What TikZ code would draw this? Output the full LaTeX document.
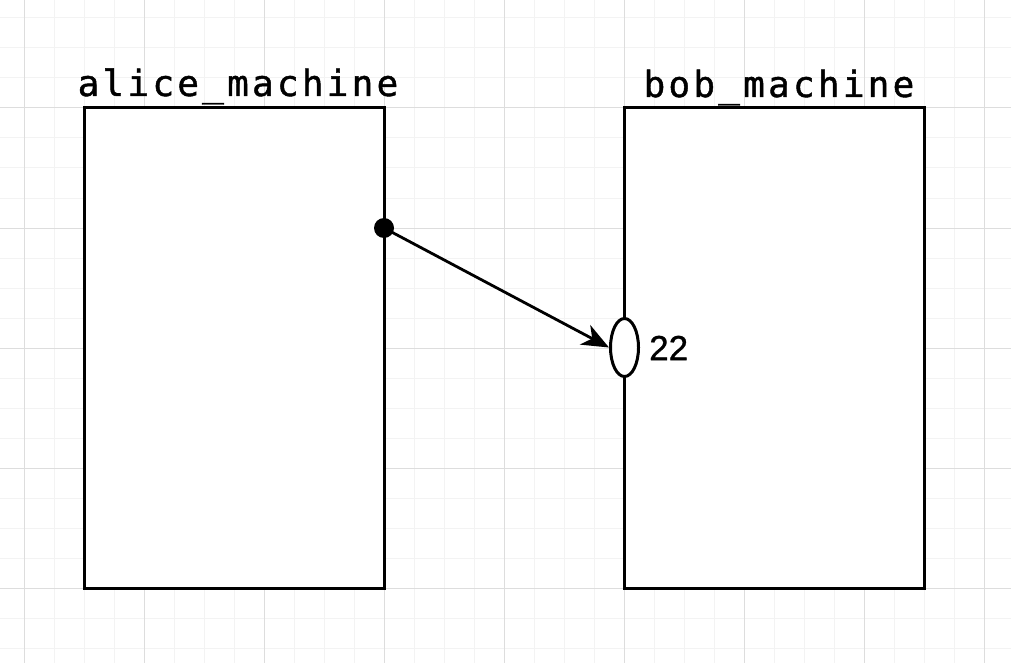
\documentclass[tikz,border=0pt]{standalone}
\usepackage{fontspec}
\usetikzlibrary{arrows.meta,shapes.geometric}
\newfontfamily\titlefont[LetterSpace=9,FakeBold=1.2]{DejaVu Sans Mono}
\newfontfamily\labelfont[FakeBold=0.8]{Liberation Sans}
\definecolor{minorgrid}{HTML}{F3F3F3}
\definecolor{majorgrid}{HTML}{DDDDDD}
\tikzset{
  machine/.style={draw=black, line width=3pt, fill=white, minimum width=300pt, minimum height=480pt, inner sep=0pt, outer sep=0pt},
  title/.style={font=\titlefont\fontsize{36}{36}\selectfont, anchor=base, inner sep=0pt},
  portdot/.style={circle, fill=black, minimum size=20pt, inner sep=0pt},
  porthole/.style={ellipse, draw=black, line width=3pt, fill=white, minimum width=28pt, minimum height=58pt, inner sep=0pt},
  portlabel/.style={font=\labelfont\fontsize{35}{35}\selectfont, anchor=west, inner sep=0pt},
  link/.style={line width=2.8pt, -{Stealth[length=27pt, width=22pt, inset=8pt]}}
}
\begin{document}
\begin{tikzpicture}[x=1pt, y=-1pt]
\useasboundingbox (0,0) rectangle (1011,663);
% grid
\foreach \gx in {24,54,...,1011} \draw[minorgrid, line width=1pt] (\gx,0) -- (\gx,663);
\foreach \gy in {18,48,...,663} \draw[minorgrid, line width=1pt] (0,\gy) -- (1011,\gy);
\foreach \gx in {24,144,...,1011} \draw[majorgrid, line width=1pt] (\gx,0) -- (\gx,663);
\foreach \gy in {-12,108,...,663} \draw[majorgrid, line width=1pt] (0,\gy) -- (1011,\gy);
% machines
\node[machine] (alice) at (234,348) {};
\node[machine] (bob) at (774,348) {};
\node[title] (alicet) at (238,96) {alice\_machine};
\node[title] (bobt) at (779,97) {bob\_machine};
% ports
\node[portdot] (src) at (384,228) {};
\node[porthole] (dst) at (624.5,347.5) {};
\node[portlabel] (lbl) at (649,348) {22};
\draw[link] (src.center) -- (dst.west);
\end{tikzpicture}
\end{document}
